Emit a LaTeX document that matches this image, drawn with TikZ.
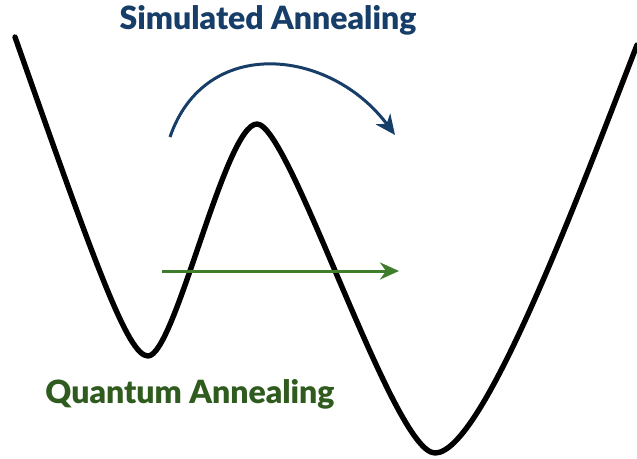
\documentclass[tikz,border=0pt]{standalone}
\usepackage{fontspec}
\setmainfont{Lato}[BoldFont={Lato Black}]
\usetikzlibrary{positioning,arrows.meta}
\definecolor{saBlue}{HTML}{173E68}
\definecolor{qaText}{HTML}{2F5B1E}
\definecolor{qaLine}{HTML}{3F7D2C}
\tikzset{
  land/.style ={draw=black, line width=5.4pt, line cap=round, line join=round},
  sa/.style   ={-{Stealth[length=20pt,width=18pt,inset=6pt]}, draw=saBlue, line width=3pt},
  qa/.style   ={-{Stealth[length=19pt,width=17pt,inset=6pt]}, draw=qaLine, line width=3pt},
  ttl/.style  ={inner sep=0pt, font=\fontsize{32}{36}\selectfont\bfseries},
}

\begin{document}
\begin{tikzpicture}[x=1pt, y=-1pt]
\useasboundingbox (0,0) rectangle (637,458);
% energy landscape
\coordinate (top1) at (15,37);
\coordinate (min1) at (148,356);
\coordinate (peak) at (257,124);
\coordinate (min2) at (435,453);
\coordinate (top2) at (637,45);
\draw[land] (top1) .. controls (96,267) and (128,356) .. (min1)
  .. controls (175,356) and (225,124) .. (peak)
  .. controls (290,124) and (393,453) .. (min2)
  .. controls (482,453) and (575,205) .. (top2);
% labels
\node[ttl, text=saBlue] (satext) at (268,20) {Simulated Annealing};
\node[ttl, text=qaText] (qatext) at (190,394) {Quantum Annealing};
% arrows
\coordinate (sastart) at (170,137);
\coordinate (saend)   at (395,135);
\coordinate (qastart) at (162,271);
\coordinate (qaend)   at (399,271);
\draw[sa] (sastart) .. controls (205,35) and (330,48) .. (saend);
\draw[qa] (qastart) -- (qaend);
\end{tikzpicture}
\end{document}
